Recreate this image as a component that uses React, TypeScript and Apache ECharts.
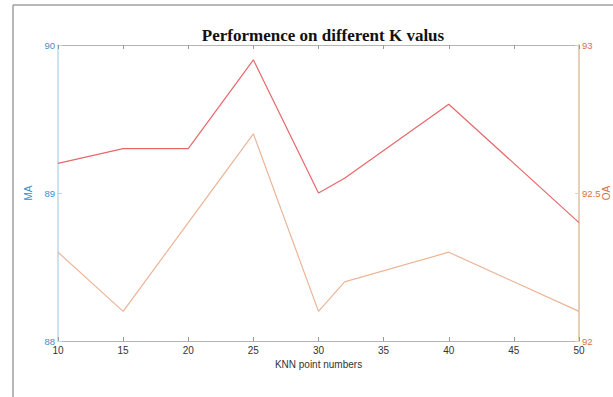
import React, { useEffect, useRef } from "react";
import * as echarts from "echarts";

const kValues = [10, 15, 20, 25, 30, 32, 40, 50];
const maValues = [88.6, 88.2, 88.8, 89.4, 88.2, 88.4, 88.6, 88.2];
const oaValues = [92.6, 92.65, 92.65, 92.95, 92.5, 92.55, 92.8, 92.4];

export default function App() {
  const ref = useRef<HTMLDivElement>(null);
  useEffect(() => {
    document.body.style.margin = "0";
    const chart = echarts.init(ref.current!, null, { renderer: "svg" });
    const sans = "Liberation Sans, Arial, sans-serif";
    chart.setOption({
      animation: false,
      backgroundColor: "#ffffff",
      title: {
        text: "Performence on different K valus",
        left: 318,
        textAlign: "center",
        top: 22,
        textStyle: {
          fontFamily: "Liberation Serif, Times New Roman, serif",
          fontWeight: "bold",
          fontSize: 17,
          color: "#111",
        },
      },
      graphic: [
        { type: "line", shape: { x1: 13, y1: 5, x2: 613, y2: 5 }, style: { stroke: "#a0a0a0", lineWidth: 1.5 } },
        { type: "line", shape: { x1: 13, y1: 5, x2: 13, y2: 397 }, style: { stroke: "#a0a0a0", lineWidth: 1.5 } },
        {
          type: "text",
          x: 606,
          y: 193,
          rotation: Math.PI / 2,
          style: {
            text: "OA",
            fontFamily: sans,
            fontSize: 10,
            fill: "#d9703f",
            align: "center",
            verticalAlign: "middle",
          },
        },
      ],
      grid: { left: 58, right: 34, top: 45, bottom: 56, outerBoundsMode: "none", containLabel: false },
      xAxis: [
        {
          type: "value",
          min: 10,
          max: 50,
          interval: 5,
          position: "bottom",
          name: "KNN point numbers",
          nameLocation: "middle",
          nameGap: 17,
          nameTextStyle: { fontFamily: sans, fontSize: 10, color: "#333" },
          axisLine: { show: true, lineStyle: { color: "#b5b5b5", width: 1 } },
          axisTick: { show: true, inside: true, length: 4, lineStyle: { color: "#999" } },
          axisLabel: { fontFamily: sans, fontSize: 10, color: "#333", margin: 4 },
          splitLine: { show: false },
        },
        {
          type: "value",
          min: 10,
          max: 50,
          interval: 5,
          position: "top",
          axisLine: { show: true, lineStyle: { color: "#b5b5b5", width: 1 } },
          axisTick: { show: true, inside: true, length: 4, lineStyle: { color: "#999" } },
          axisLabel: { show: false },
          splitLine: { show: false },
        },
      ],
      yAxis: [
        {
          type: "value",
          min: 88,
          max: 90,
          interval: 1,
          position: "left",
          name: "MA",
          nameLocation: "middle",
          nameGap: 16,
          nameRotate: 90,
          nameTextStyle: { fontFamily: sans, fontSize: 10, color: "#3b8fc4" },
          axisLine: { show: true, lineStyle: { color: "#b9dbe9", width: 1.5 } },
          axisTick: { show: true, inside: true, length: 4, lineStyle: { color: "#b9dbe9" } },
          axisLabel: { fontFamily: sans, fontSize: 9.5, color: "#3b8fc4", margin: 3 },
          splitLine: { show: false },
        },
        {
          type: "value",
          min: 92,
          max: 93,
          interval: 0.5,
          position: "right",
          axisLine: { show: true, lineStyle: { color: "#e6cfb8", width: 2 } },
          axisTick: { show: true, inside: true, length: 4, lineStyle: { color: "#e6cfb8" } },
          axisLabel: { fontFamily: sans, fontSize: 9.5, color: "#d9703f", margin: 3 },
          splitLine: { show: false },
        },
      ],
      series: [
        {
          type: "line",
          name: "OA",
          yAxisIndex: 1,
          data: kValues.map((k, i) => [k, oaValues[i]]),
          showSymbol: false,
          lineStyle: { color: "#e8676b", width: 1.2 },
        },
        {
          type: "line",
          name: "MA",
          yAxisIndex: 0,
          data: kValues.map((k, i) => [k, maValues[i]]),
          showSymbol: false,
          lineStyle: { color: "#ebb596", width: 1.2 },
        },
      ],
    });
    return () => chart.dispose();
  }, []);
  return <div ref={ref} style={{ width: 613, height: 397 }} />;
}
